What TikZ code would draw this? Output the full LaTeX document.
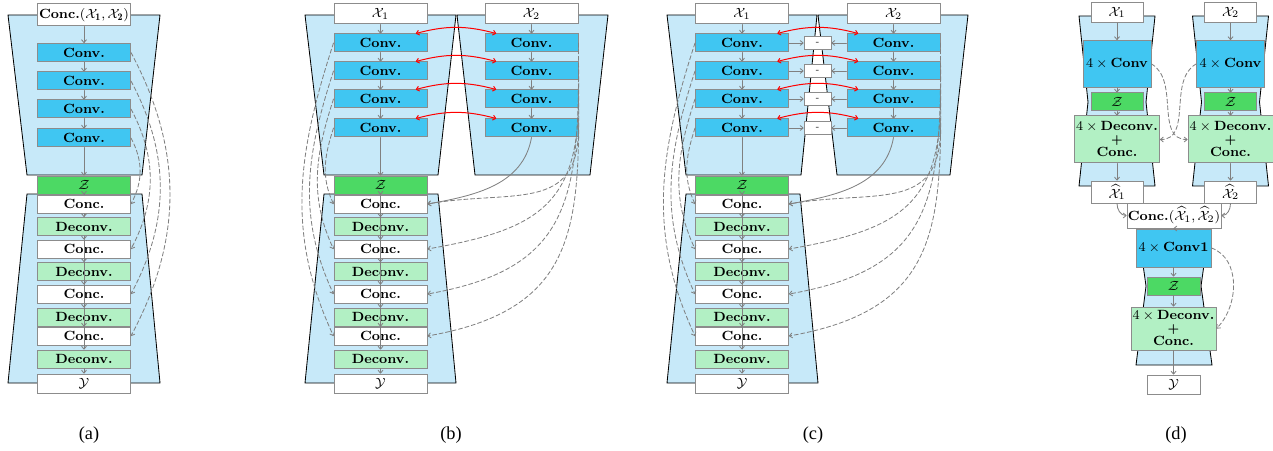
\documentclass[tikz,border=0pt]{standalone}
\usepackage{fontspec}
\usetikzlibrary{arrows.meta}
\newfontfamily\capfont{Liberation Serif}
\definecolor{convblue}{RGB}{64,198,242}
\definecolor{zgreen}{RGB}{76,217,100}
\definecolor{deconvgreen}{RGB}{178,240,196}
\definecolor{hullblue}{RGB}{199,233,249}
\definecolor{boxgray}{RGB}{140,140,140}
\definecolor{linkgray}{RGB}{128,128,128}
\tikzset{
  blk/.style={draw=boxgray, line width=0.6pt, inner sep=0pt, minimum width=55.8pt,
    minimum height=10.8pt, font=\footnotesize\bfseries, align=center},
  convblk/.style={blk, fill=convblue},
  deconvblk/.style={blk, fill=deconvgreen},
  zblk/.style={blk, fill=zgreen},
  catblk/.style={blk, fill=white},
  ioblk/.style={blk, fill=white, minimum height=12pt},
  subblk/.style={blk, fill=white, minimum width=16.2pt, minimum height=7.8pt, font=\tiny},
  lnk/.style={->, draw=linkgray, line width=0.5pt},
  skiplink/.style={lnk, dashed, dash pattern=on 2.5pt off 1.5pt},
  xlink/.style={<->, red, line width=0.6pt},
  hull/.style={fill=hullblue, draw=black, line width=0.5pt},
  caption/.style={font=\capfont\fontsize{11}{13}\selectfont}
}
\begin{document}
\begin{tikzpicture}[x=0.6pt, y=0.6pt, line cap=round, >={To[length=2.2pt,width=3.4pt]}]
  \useasboundingbox (0,0) rectangle (1273,-451);

  % Panel (a): one encoder on the joined inputs.
  \draw[hull] (8,-15) -- (160,-15) -- (142,-175) -- (27,-175) -- cycle;
  \draw[hull] (27,-194) -- (142,-194) -- (160,-383) -- (8,-383) -- cycle;
  \node[ioblk, minimum height=13.2pt] (a-in) at (84,-15) {Conc.$(\mathcal{X}_\mathbf{1},\mathcal{X}_\mathbf{2})$};
  \foreach \i/\y in {1/52.5, 2/81, 3/109, 4/138}
    \node[convblk] (a-conv\i) at (84,-\y) {Conv.};
  \node[zblk] (a-z) at (84,-185) {$\mathcal{Z}$};
  \foreach \i/\y in {1/204, 2/249, 3/294, 4/336}
    \node[catblk] (a-cat\i) at (84,-\y) {Conc.};
  \foreach \i/\y in {1/226.5, 2/271.5, 3/317, 4/359}
    \node[deconvblk] (a-dec\i) at (84,-\y) {Deconv.};
  \node[ioblk, minimum height=11.4pt] (a-out) at (84,-383.5) {$\mathcal{Y}$};
  % Main path.
  \draw[lnk] (a-in) -- (a-conv1);
  \foreach \i/\j in {1/2, 2/3, 3/4}
    \draw[lnk] (a-conv\i) -- (a-conv\j);
  \draw[lnk] (a-conv4) -- (a-z);
  \draw[lnk] (a-z.south) -- (a-cat1.north);
  \draw[lnk] (a-cat1) -- (a-dec1);
  \draw[lnk] (a-dec1) -- (a-cat2);
  \foreach \u/\v in {cat2/dec2, dec2/cat3, cat3/dec3, dec3/cat4, cat4/dec4}
    \draw[lnk] (a-\u.north) -- (a-\v.north);
  \draw[lnk] (a-dec4) -- (a-out);
  % Skip connections.
  \foreach \i/\j in {1/4, 2/3, 3/2, 4/1}
    \draw[skiplink] (a-conv\i.east) to[out=-62, in=62] (a-cat\j.east);
  \node[caption] (a-cap) at (89,-435) {(a)};

  % Panel (b): two encoders, one decoder.
  \draw[hull] (305,-15) -- (456,-15) -- (438,-175) -- (324,-175) -- cycle;
  \draw[hull] (457,-15) -- (608,-15) -- (590,-175) -- (475,-175) -- cycle;
  \draw[hull] (324,-194) -- (438,-194) -- (456,-383) -- (305,-383) -- cycle;
  \node[ioblk] (b-in1) at (380.5,-14) {$\mathcal{X}_1$};
  \node[ioblk] (b-in2) at (531.5,-14) {$\mathcal{X}_2$};
  \foreach \i/\y in {1/43, 2/71, 3/99, 4/128} {
    \node[convblk] (b-convL\i) at (380.5,-\y) {Conv.};
    \node[convblk] (b-convR\i) at (531.5,-\y) {Conv.};
  }
  \node[zblk] (b-z) at (380.5,-185) {$\mathcal{Z}$};
  \foreach \i/\y in {1/204, 2/249, 3/294, 4/336}
    \node[catblk] (b-cat\i) at (380.5,-\y) {Conc.};
  \foreach \i/\y in {1/226.5, 2/271.5, 3/317, 4/359}
    \node[deconvblk] (b-dec\i) at (380.5,-\y) {Deconv.};
  \node[ioblk, minimum height=11.4pt] (b-out) at (380.5,-383.5) {$\mathcal{Y}$};
  % Main path.
  \draw[lnk] (b-in1) -- (b-convL1);
  \draw[lnk] (b-in2) -- (b-convR1);
  \foreach \i/\j in {1/2, 2/3, 3/4} {
    \draw[lnk] (b-convL\i) -- (b-convL\j);
    \draw[lnk] (b-convR\i) -- (b-convR\j);
  }
  \draw[lnk] (b-convL4) -- (b-z);
  \draw[lnk] (b-z.south) -- (b-cat1.north);
  \foreach \u/\v in {cat1/dec1, dec1/cat2, cat2/dec2, dec2/cat3, cat3/dec3, dec3/cat4, cat4/dec4}
    \draw[lnk] (b-\u.north) -- (b-\v.north);
  \draw[lnk] (b-dec4) -- (b-out);
  % Shared weights.
  \foreach \i in {1,...,4}
    \draw[xlink] ([xshift=-7pt]b-convL\i.north east) to[bend left=15] ([xshift=7pt]b-convR\i.north west);
  % Skip connections.
  \draw[lnk] (b-convR4.south) to[out=-100, in=10] (b-cat1.east);
  \foreach \i/\j in {1/4, 2/3, 3/2, 4/1} {
    \draw[skiplink] (b-convL\i.west) to[out=-108, in=115] (b-cat\j.west);
    \draw[skiplink] (b-convR\i.east) to[out=-90, in=10, looseness=1.3] (b-cat\j.east);
  }
  \node[caption] (b-cap) at (451,-435) {(b)};

  % Panel (c): as (b), with differences of the features.
  \draw[hull] (667,-15) -- (817,-15) -- (801,-175) -- (686,-175) -- cycle;
  \draw[hull] (818,-15) -- (968,-15) -- (950,-175) -- (837,-175) -- cycle;
  \draw[hull] (686,-194) -- (800,-194) -- (818,-383) -- (667,-383) -- cycle;
  \node[ioblk] (c-in1) at (742,-14) {$\mathcal{X}_1$};
  \node[ioblk] (c-in2) at (893.5,-14) {$\mathcal{X}_2$};
  \foreach \i/\y in {1/43, 2/71, 3/99, 4/128} {
    \node[convblk] (c-convL\i) at (742,-\y) {Conv.};
    \node[convblk] (c-convR\i) at (893.5,-\y) {Conv.};
    \node[subblk] (c-sub\i) at (817.5,-\y) {-};
  }
  \node[zblk] (c-z) at (742,-185) {$\mathcal{Z}$};
  \foreach \i/\y in {1/204, 2/249, 3/294, 4/336}
    \node[catblk] (c-cat\i) at (742,-\y) {Conc.};
  \foreach \i/\y in {1/226.5, 2/271.5, 3/317, 4/359}
    \node[deconvblk] (c-dec\i) at (742,-\y) {Deconv.};
  \node[ioblk, minimum height=11.4pt] (c-out) at (742,-383.5) {$\mathcal{Y}$};
  % Main path.
  \draw[lnk] (c-in1) -- (c-convL1);
  \draw[lnk] (c-in2) -- (c-convR1);
  \foreach \i/\j in {1/2, 2/3, 3/4} {
    \draw[lnk] (c-convL\i) -- (c-convL\j);
    \draw[lnk] (c-convR\i) -- (c-convR\j);
  }
  \foreach \i in {1,...,4} {
    \draw[lnk] (c-convL\i) -- (c-sub\i);
    \draw[lnk] (c-convR\i) -- (c-sub\i);
  }
  \draw[lnk] (c-convL4) -- (c-z);
  \draw[lnk] (c-z.south) -- (c-cat1.north);
  \foreach \u/\v in {cat1/dec1, dec1/cat2, cat2/dec2, dec2/cat3, cat3/dec3, dec3/cat4, cat4/dec4}
    \draw[lnk] (c-\u.north) -- (c-\v.north);
  \draw[lnk] (c-dec4) -- (c-out);
  % Shared weights.
  \foreach \i in {1,...,4}
    \draw[xlink] ([xshift=-7pt]c-convL\i.north east) to[bend left=15] ([xshift=7pt]c-convR\i.north west);
  % Skip connections.
  \draw[lnk] (c-convR4.south) to[out=-100, in=10] (c-cat1.east);
  \foreach \i/\j in {1/4, 2/3, 3/2, 4/1} {
    \draw[skiplink] (c-convL\i.west) to[out=-108, in=115] (c-cat\j.west);
    \draw[skiplink] (c-convR\i.east) to[out=-90, in=10, looseness=1.3] (c-cat\j.east);
  }
  \node[caption] (c-cap) at (813,-435) {(c)};

  % Panel (d): two autoencoders, then a third one on their outputs.
  \draw[hull] (1079,-16) -- (1155,-16) -- (1146,-102) -- (1155,-186) -- (1079,-186) -- (1088,-102) -- cycle;
  \draw[hull] (1192.5,-16) -- (1268.5,-16) -- (1259.5,-102) -- (1268.5,-186) -- (1192.5,-186) -- (1201.5,-102) -- cycle;
  \draw[hull] (1138,-229) -- (1209,-229) -- (1201,-286) -- (1212,-365) -- (1136,-365) -- (1146,-286) -- cycle;
  \foreach \k/\x in {1/1117, 2/1230.5} {
    \node[ioblk, minimum width=31.2pt] (d-in\k) at (\x,-12.5) {$\mathcal{X}_\k$};
    \node[convblk, minimum width=40.8pt, minimum height=28.2pt] (d-conv\k) at (\x,-64) {$4\times{}$Conv};
    \node[zblk, minimum width=31.2pt] (d-z\k) at (\x,-102) {$\mathcal{Z}$};
    \node[deconvblk, minimum width=51pt, minimum height=28.2pt] (d-dec\k) at (\x,-139.5)
      {$4\times{}$Deconv.\\[-1.7pt]{\scriptsize+}\\[-1.7pt]Conc.};
    \node[ioblk, minimum width=31.2pt, minimum height=13.2pt] (d-rec\k) at (\x,-192) {$\widehat{\mathcal{X}}_\k$};
    \draw[lnk] (d-in\k) -- (d-conv\k);
    \draw[lnk] (d-conv\k) -- (d-z\k);
    \draw[lnk] (d-z\k) -- (d-dec\k);
    \draw[lnk] (d-dec\k) -- (d-rec\k);
  }
  \node[catblk, minimum width=56.4pt, minimum height=15pt] (d-cat) at (1174,-215.5)
    {Conc.$(\widehat{\mathcal{X}}_1,\widehat{\mathcal{X}}_2)$};
  \node[convblk, minimum width=45pt, minimum height=22.8pt] (d-conv) at (1173.5,-248) {$4\times{}$Conv1};
  \node[zblk, minimum width=31.8pt] (d-z) at (1173.5,-286) {$\mathcal{Z}$};
  \node[deconvblk, minimum width=51pt, minimum height=25.8pt] (d-dec) at (1173.5,-328.5)
    {$4\times{}$Deconv.\\[-1.7pt]{\scriptsize+}\\[-1.7pt]Conc.};
  \node[ioblk, minimum width=31.8pt, minimum height=11.4pt] (d-out) at (1173.5,-384.5) {$\mathcal{Y}$};
  % Main path.
  \draw[lnk] (d-rec1.south) to[out=-90, in=180] (d-cat.west);
  \draw[lnk] (d-rec2.south) to[out=-90, in=0] (d-cat.east);
  \draw[lnk] (d-cat.south) -- (d-conv.north);
  \draw[lnk] (d-conv) -- (d-z);
  \draw[lnk] (d-z) -- (d-dec);
  \draw[lnk] (d-dec) -- (d-out);
  % Skip connections.
  \draw[skiplink] (d-conv1.east) to[out=-30, in=180] (d-dec2.west);
  \draw[skiplink] (d-conv2.west) to[out=210, in=0] (d-dec1.east);
  \draw[skiplink] (d-conv.east) to[out=-20, in=45] (d-dec.east);
  \node[caption] (d-cap) at (1176,-435) {(d)};
\end{tikzpicture}
\end{document}
